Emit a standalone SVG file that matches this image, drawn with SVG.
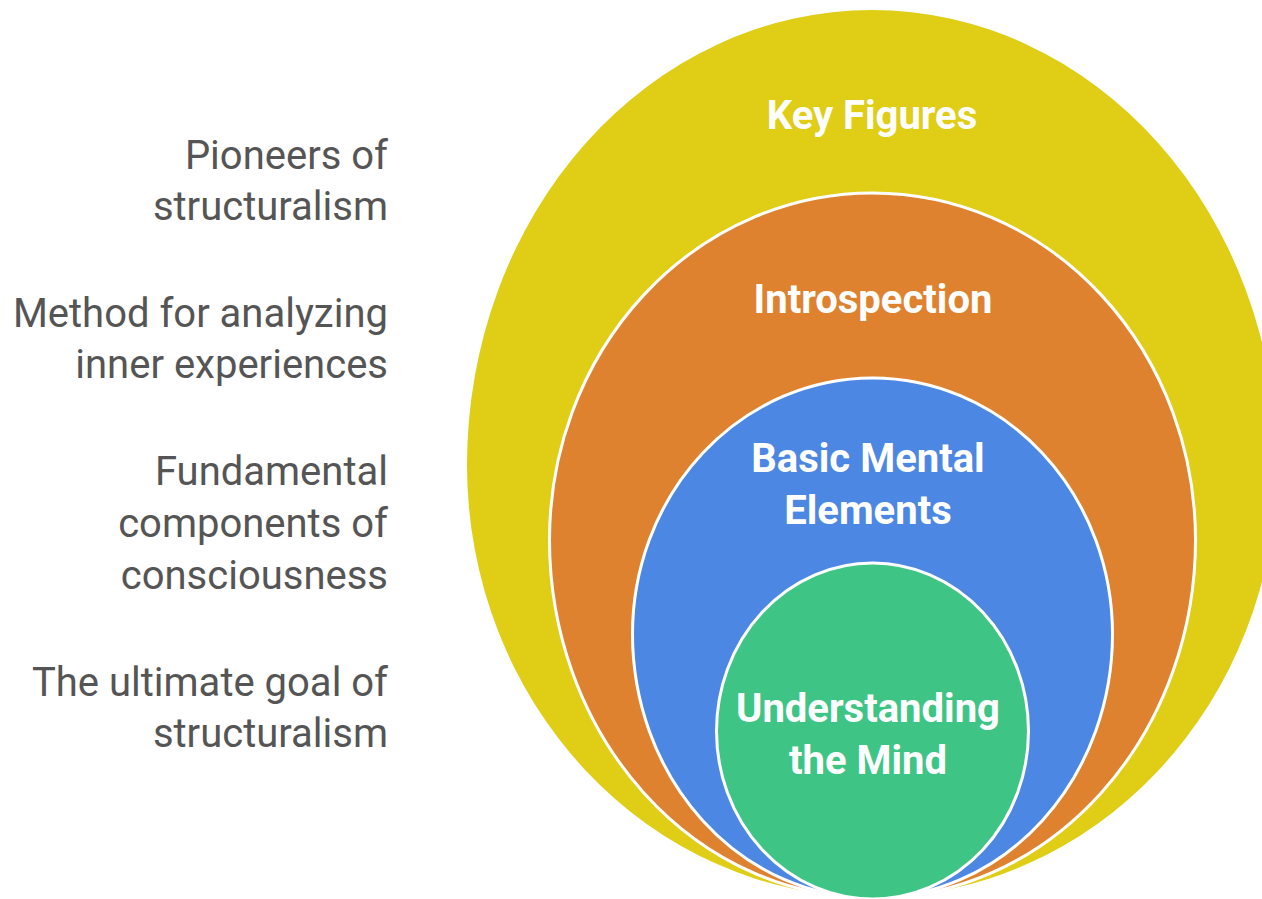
<svg xmlns="http://www.w3.org/2000/svg" width="1262" height="899" viewBox="0 0 1262 899">
  <style>
    .lbl { font-family: Roboto, "Liberation Sans", sans-serif; font-size: 40px; fill: #555555; text-anchor: end; }
    .nt { font-family: Roboto, "Liberation Sans", sans-serif; font-weight: bold; font-size: 40px; fill: #ffffff; text-anchor: middle; }
    .ring { stroke: #ffffff; stroke-width: 3; }
  </style>
  <rect width="1262" height="899" fill="#ffffff"/>
  <g id="labels">
    <text class="lbl" x="388" y="169">Pioneers of</text>
    <text class="lbl" x="388" y="220">structuralism</text>
    <text class="lbl" x="388" y="327">Method for analyzing</text>
    <text class="lbl" x="388" y="378">inner experiences</text>
    <text class="lbl" x="388" y="485">Fundamental</text>
    <text class="lbl" x="388" y="537">components of</text>
    <text class="lbl" x="388" y="589">consciousness</text>
    <text class="lbl" x="388" y="696">The ultimate goal of</text>
    <text class="lbl" x="388" y="747">structuralism</text>
  </g>
  <g id="key-figures">
    <path d="M 467 465 A 405 455 0 0 1 1277 465 A 405 432 0 0 1 467 465 Z" fill="#E0CD16"/>
    <text class="nt" x="872" y="129">Key Figures</text>
  </g>
  <g id="introspection">
    <path class="ring" d="M 549.5 540 A 323 347 0 0 1 1195.5 540 A 323 358 0 0 1 549.5 540 Z" fill="#DE8230"/>
    <text class="nt" x="873" y="313">Introspection</text>
  </g>
  <g id="basic-mental-elements">
    <path class="ring" d="M 632.5 634 A 240 256 0 0 1 1112.5 634 A 240 264 0 0 1 632.5 634 Z" fill="#4C87E3"/>
    <text class="nt" x="868" y="472">Basic Mental</text>
    <text class="nt" x="868" y="524">Elements</text>
  </g>
  <g id="understanding-the-mind">
    <ellipse class="ring" cx="872.5" cy="731" rx="156" ry="168" fill="#3EC586"/>
    <text class="nt" x="868" y="722">Understanding</text>
    <text class="nt" x="868" y="774">the Mind</text>
  </g>
  <g id="connectors"></g>
</svg>
